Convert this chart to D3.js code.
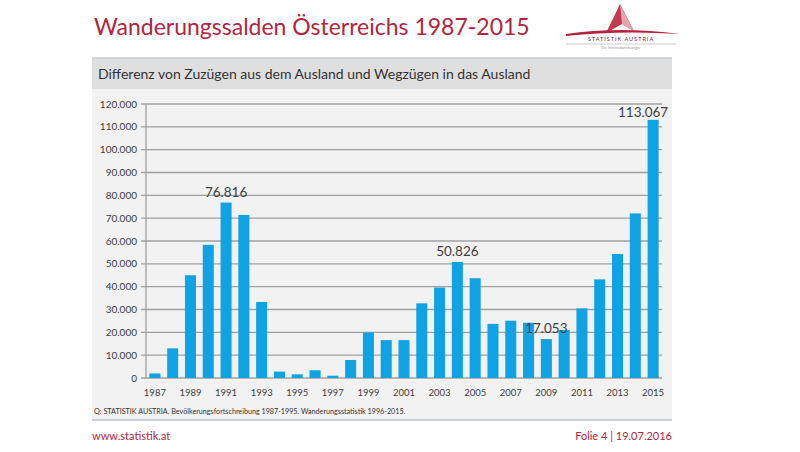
<!DOCTYPE html>
<html><head><meta charset="utf-8">
<script src="https://cdn.jsdelivr.net/npm/d3@7"></script>
<style>body{margin:0;background:#fff}svg{display:block}</style>
</head><body>
<svg id="c" width="800" height="452"></svg>
<script>
const years = d3.range(1987, 2016);
const values = [2000, 13000, 45000, 58300, 76816, 71400, 33300, 2800, 1600, 3400, 1000, 7900, 19900, 16600, 16600, 32700, 39600, 50826, 43700, 23700, 25100, 24200, 17053, 21000, 30500, 43200, 54300, 72100, 113067];
const labeledYears = [1991, 2004, 2009, 2015];
const yTicks = d3.range(0, 120001, 10000);
const xTickYears = years.filter(y => (y - 1987) % 2 === 0);

const fmt = v => v === 0 ? "0" : d3.format(",")(v).replace(/,/g, ".");
const svg = d3.select("#c");
const red = "#b3243f";
const font = "Lato, 'Open Sans', sans-serif";

// title
svg.append("text").attr("x", 94).attr("y", 35).attr("font-family", font).attr("font-size", 23)
  .attr("fill", red).text("Wanderungssalden Österreichs 1987-2015");

// logo
const lg = svg.append("g");
lg.append("path").attr("d", "M620,4 L606,33 L622,24 L634,31 Z").attr("fill", "#c23a4e");
lg.append("path").attr("d", "M620,4 L622,24 L634,31 Z").attr("fill", "#e7a3ae");
lg.append("path").attr("d", "M566,34 Q620,26 680,34 Q620,30 566,36 Z").attr("fill", "#b3243f");
lg.append("text").attr("x", 621).attr("y", 41).attr("text-anchor", "middle").attr("font-family", font)
  .attr("font-size", 5.5).attr("letter-spacing", 1).attr("fill", "#7a2030").text("STATISTIK AUSTRIA");
lg.append("line").attr("x1", 566).attr("x2", 676).attr("y1", 44).attr("y2", 44).attr("stroke", "#ccc");
lg.append("text").attr("x", 621).attr("y", 49).attr("text-anchor", "middle").attr("font-family", font)
  .attr("font-size", 3.5).attr("fill", "#999").text("Die Informationsmanager");

// bands
svg.append("rect").attr("x", 92).attr("y", 58).attr("width", 580).attr("height", 31).attr("fill", "#dfdfdf");
svg.append("line").attr("x1", 92).attr("x2", 672).attr("y1", 58).attr("y2", 58).attr("stroke", "#c8ccd4").attr("stroke-width", 1.5);
svg.append("text").attr("x", 98).attr("y", 79).attr("font-family", font).attr("font-size", 14)
  .attr("fill", "#333").text("Differenz von Zuzügen aus dem Ausland und Wegzügen in das Ausland");
svg.append("rect").attr("x", 92).attr("y", 89).attr("width", 580).attr("height", 331).attr("fill", "#f2f2f2");
svg.append("line").attr("x1", 92).attr("x2", 672).attr("y1", 420).attr("y2", 420).attr("stroke", "#c8d0dc").attr("stroke-width", 2);

const x = d3.scaleBand().domain(years).range([146, 662]).paddingInner(0.38).paddingOuter(0.19);
const y = d3.scaleLinear().domain([0, 120000]).range([378, 104]);

// grid
svg.append("g").selectAll("line").data(yTicks).join("line")
  .attr("x1", 141).attr("x2", 662).attr("y1", d => y(d)).attr("y2", d => y(d))
  .attr("stroke", "#a0a0a0").attr("stroke-width", 1.3);
svg.append("line").attr("x1", 146).attr("x2", 146).attr("y1", y(120000)).attr("y2", y(0)).attr("stroke", "#a0a0a0").attr("stroke-width", 1.3);

// y labels
svg.append("g").selectAll("text").data(yTicks).join("text")
  .attr("x", 137).attr("y", d => y(d) + 3.5).attr("text-anchor", "end")
  .attr("font-family", font).attr("font-size", 10).attr("fill", "#404040").text(fmt);

// bars
const data = years.map((yr, i) => ({ yr, v: values[i] }));
svg.append("g").selectAll("rect").data(data).join("rect")
  .attr("x", d => x(d.yr)).attr("width", x.bandwidth())
  .attr("y", d => y(d.v)).attr("height", d => y(0) - y(d.v)).attr("fill", "#10a3e3");

// x labels
svg.append("g").selectAll("text").data(xTickYears).join("text")
  .attr("x", d => x(d) + x.bandwidth() / 2).attr("y", 396).attr("text-anchor", "middle")
  .attr("font-family", font).attr("font-size", 9.5).attr("fill", "#404040").text(d => d);

// value labels
svg.append("g").selectAll("text").data(data.filter(d => labeledYears.includes(d.yr))).join("text")
  .attr("x", d => x(d.yr) + x.bandwidth() / 2 - (d.yr === 2015 ? 10 : 0))
  .attr("y", d => y(d.v) - (d.yr === 2015 ? 3 : 6)).attr("text-anchor", "middle")
  .attr("font-family", font).attr("font-size", 13.5).attr("fill", "#404040").text(d => fmt(d.v));

// source
svg.append("text").attr("x", 94).attr("y", 414).attr("font-family", font).attr("font-size", 7.2)
  .attr("fill", "#333").text("Q: STATISTIK AUSTRIA. Bevölkerungsfortschreibung  1987-1995. Wanderungsstatistik 1996-2015.");

// footer
svg.append("text").attr("x", 92).attr("y", 440).attr("font-family", font).attr("font-size", 11)
  .attr("fill", red).text("www.statistik.at");
svg.append("text").attr("x", 672).attr("y", 440).attr("text-anchor", "end").attr("font-family", font).attr("font-size", 11)
  .attr("fill", red).text("Folie 4  |  19.07.2016");
</script>
</body></html>
